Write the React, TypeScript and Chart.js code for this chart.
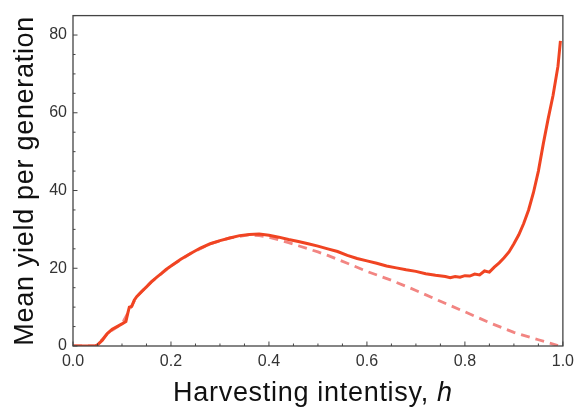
import React, { useEffect, useRef } from "react";
import { Chart, registerables } from "chart.js";

Chart.register(...registerables);

const hSolid = [
  0, 0.02, 0.045, 0.05, 0.06, 0.07, 0.08, 0.09, 0.1, 0.108, 0.112, 0.115, 0.12, 0.125, 0.13,
  0.14, 0.15, 0.16, 0.17, 0.18, 0.19, 0.2, 0.22, 0.24, 0.26, 0.28, 0.3, 0.32, 0.34, 0.36,
  0.38, 0.4, 0.42, 0.44, 0.46, 0.48, 0.5, 0.52, 0.54, 0.56, 0.58, 0.6, 0.62, 0.64, 0.66,
  0.68, 0.7, 0.72, 0.74, 0.76, 0.77, 0.78, 0.79, 0.8, 0.81, 0.82, 0.83, 0.84, 0.85, 0.86,
  0.87, 0.88, 0.89, 0.9, 0.91, 0.92, 0.93, 0.94, 0.95, 0.96, 0.97, 0.98, 0.99, 0.995,
];
const yieldSolid = [
  0, 0, 0, 0.3, 1.5, 3.2, 4.3, 5.0, 5.7, 6.3, 8.5, 10.0, 10.2, 11.8, 12.7,
  14.0, 15.2, 16.5, 17.6, 18.6, 19.7, 20.6, 22.3, 23.8, 25.2, 26.3, 27.1, 27.8, 28.4, 28.7,
  28.8, 28.5, 28.0, 27.4, 26.9, 26.3, 25.7, 25.0, 24.3, 23.3, 22.5, 21.9, 21.3, 20.6, 20.1,
  19.6, 19.2, 18.6, 18.2, 17.9, 17.6, 17.9, 17.7, 18.1, 18.0, 18.5, 18.3, 19.3, 19.0, 20.3,
  21.4, 22.7, 24.2, 26.3, 28.6, 31.5, 35.0, 39.5, 45.0, 52.0, 58.5, 64.5, 72.0, 78.5,
];

const hDashed = [
  0, 0.045, 0.05, 0.07, 0.1, 0.13, 0.16, 0.2, 0.24, 0.28, 0.32, 0.36, 0.38, 0.4, 0.42,
  0.44, 0.46, 0.48, 0.5, 0.52, 0.54, 0.56, 0.6, 0.65, 0.7, 0.75, 0.8, 0.85, 0.9, 0.95, 0.99,
];
const yieldDashed = [
  0, 0, 0.3, 3.2, 5.7, 12.7, 16.5, 20.6, 23.8, 26.3, 27.8, 28.6, 28.4, 28.0, 27.3,
  26.6, 25.8, 25.0, 24.2, 23.3, 22.3, 21.3, 19.2, 16.9, 14.3, 11.5, 8.8, 6.0, 3.5, 1.6, 0.1,
];

const xTitle = "Harvesting intentisy, ";
const xTitleItalic = "h";
const yTitle = "Mean yield per generation";

const FONT = "'Liberation Sans', Arial, sans-serif";

const isMajor = (v: number, step: number) => Math.abs(v / step - Math.round(v / step)) < 1e-6;

const framePlugin = {
  id: "frameTicks",
  afterDatasetsDraw(chart: any) {
    const { ctx, chartArea: a, scales } = chart;
    ctx.save();
    ctx.strokeStyle = "#444";
    ctx.lineWidth = 1.3;
    ctx.strokeRect(a.left, a.top, a.right - a.left, a.bottom - a.top);
    ctx.lineWidth = 1;
    ctx.beginPath();
    const xs = scales.x;
    xs.ticks.forEach((t: any) => {
      const px = xs.getPixelForValue(t.value);
      const len = isMajor(t.value, 0.2) ? 4.5 : 2.5;
      ctx.moveTo(px, a.bottom);
      ctx.lineTo(px, a.bottom - len);
    });
    const ys = scales.y;
    ys.ticks.forEach((t: any) => {
      const py = ys.getPixelForValue(t.value);
      const len = isMajor(t.value, 20) ? 4.5 : 2.5;
      ctx.moveTo(a.left, py);
      ctx.lineTo(a.left + len, py);
    });
    ctx.stroke();

    // axis titles
    ctx.fillStyle = "#111";
    ctx.textBaseline = "alphabetic";
    (ctx as any).letterSpacing = "0.7px";
    ctx.font = `27px ${FONT}`;
    const w1 = ctx.measureText(xTitle).width;
    ctx.font = `italic 27px ${FONT}`;
    const w2 = ctx.measureText(xTitleItalic).width;
    const cx = (a.left + a.right) / 2 - 5;
    const start = cx - (w1 + w2) / 2;
    ctx.font = `27px ${FONT}`;
    ctx.textAlign = "left";
    ctx.fillText(xTitle, start, 400.5);
    ctx.font = `italic 27px ${FONT}`;
    ctx.fillText(xTitleItalic, start + w1, 400.5);

    ctx.translate(32.5, (a.top + a.bottom) / 2);
    ctx.rotate(-Math.PI / 2);
    ctx.font = `27px ${FONT}`;
    ctx.textAlign = "center";
    ctx.fillText(yTitle, 0, 0);
    ctx.restore();
  },
};

export default function App() {
  const ref = useRef<HTMLCanvasElement>(null);
  useEffect(() => {
    const solid = hSolid.map((h, i) => ({ x: h, y: yieldSolid[i] }));
    const dashed = hDashed.map((h, i) => ({ x: h, y: yieldDashed[i] }));
    const chart = new Chart(ref.current!, {
      type: "line",
      data: {
        datasets: [
          {
            data: solid,
            borderColor: "#F04422",
            borderWidth: 3,
            pointRadius: 0,
            tension: 0,
            fill: false,
          },
          {
            data: dashed,
            borderColor: "#F28582",
            borderWidth: 2.8,
            borderDash: [9, 6],
            pointRadius: 0,
            tension: 0,
            fill: false,
          },
        ],
      },
      options: {
        responsive: false,
        animation: false,
        layout: { padding: { left: 0, top: 3, right: 15, bottom: 0 } },
        plugins: { legend: { display: false }, tooltip: { enabled: false } },
        scales: {
          x: {
            type: "linear",
            min: 0,
            max: 1,
            grid: { display: false, drawTicks: false },
            border: { display: false },
            afterFit: (s: any) => {
              s.height = 66;
            },
            ticks: {
              stepSize: 0.05,
              autoSkip: false,
              maxRotation: 0,
              padding: 6,
              color: "#333",
              font: { family: FONT, size: 16 },
              callback: (v: any) => (isMajor(Number(v), 0.2) ? Number(v).toFixed(1) : ""),
            },
          },
          y: {
            type: "linear",
            min: 0,
            max: 85,
            grid: { display: false, drawTicks: false },
            border: { display: false },
            afterFit: (s: any) => {
              s.width = 73;
            },
            ticks: {
              stepSize: 5,
              autoSkip: false,
              padding: 6,
              color: "#333",
              font: { family: FONT, size: 16 },
              callback: (v: any) => (isMajor(Number(v), 20) ? String(Math.round(Number(v))) : ""),
            },
          },
        },
      },
      plugins: [framePlugin],
    });
    return () => chart.destroy();
  }, []);
  return (
    <div style={{ position: "absolute", left: 0, top: 0, width: 580, height: 412, background: "#fff" }}>
      <canvas ref={ref} width={580} height={412} />
    </div>
  );
}
